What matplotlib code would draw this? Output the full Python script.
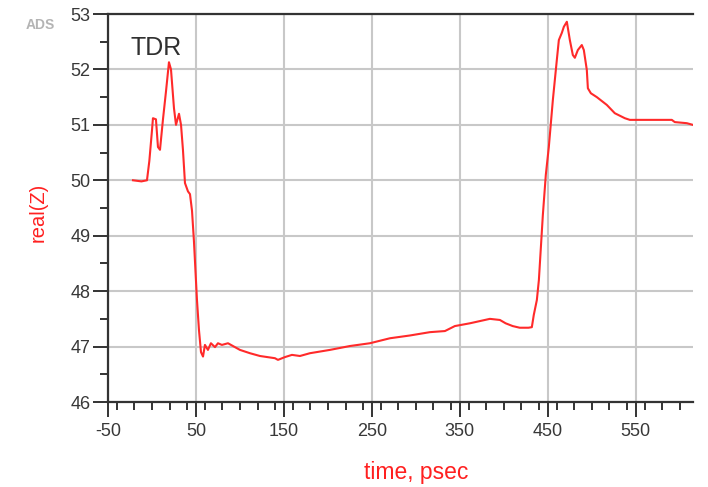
"""ADS TDR plot: real(Z) vs time."""
import matplotlib
matplotlib.use("Agg")
import matplotlib.pyplot as plt
from matplotlib.ticker import MultipleLocator

time_ps = [-21.6, -12, -5.7, -3, 0, 1.1, 4.5, 6.8, 9.1, 12.5, 15.9, 19.3, 21.6, 25,
           27.3, 30.7, 33, 35.2, 37.5, 40.9, 43.2, 45.5, 47.7, 51.1, 53.4, 55.7, 58,
           60.2, 63.6, 67, 71.6, 75, 79.5, 86.4, 94.3, 100, 111.4, 122.7, 139.8, 143.2,
           151.1, 159.1, 168.2, 179.5, 202.3, 225, 247.7, 270.5, 293.2, 315.9, 333,
           344.3, 361.4, 384.1, 395.5, 402, 410, 418, 424, 428, 431.8, 434, 437.5,
           439.8, 444.3, 447.7, 451.1, 455.7, 460.2, 462.5, 465.9, 468.2, 471.6, 475,
           478.4, 480.7, 484.1, 488.6, 490.9, 494.3, 495.5, 498.9, 505.7, 517, 526.1,
           537.5, 543.2, 590.9, 594.3, 608, 614.8]
real_z = [50.0, 49.98, 50.0, 50.35, 50.9, 51.12, 51.1, 50.6, 50.55, 51.1, 51.6, 52.13,
          52.0, 51.3, 51.0, 51.2, 51.0, 50.55, 49.95, 49.8, 49.75, 49.45, 48.9, 47.85,
          47.3, 46.9, 46.82, 47.03, 46.94, 47.06, 46.99, 47.06, 47.03, 47.06, 46.99,
          46.94, 46.88, 46.83, 46.79, 46.76, 46.81, 46.85, 46.83, 46.88, 46.94, 47.01,
          47.06, 47.15, 47.2, 47.26, 47.28, 47.37, 47.42, 47.5, 47.48, 47.42, 47.37,
          47.34, 47.34, 47.34, 47.35, 47.57, 47.84, 48.2, 49.37, 50.1, 50.6, 51.45,
          52.17, 52.53, 52.66, 52.77, 52.86, 52.53, 52.26, 52.21, 52.35, 52.44, 52.35,
          51.99, 51.66, 51.57, 51.5, 51.36, 51.21, 51.12, 51.09, 51.09, 51.05, 51.03,
          51.0]

x_ticks = [-50, 50, 150, 250, 350, 450, 550]
y_ticks = [46, 47, 48, 49, 50, 51, 52, 53]

plt.rcParams["font.family"] = ["Liberation Sans", "DejaVu Sans"]
plt.rcParams["axes.unicode_minus"] = False

fig = plt.figure(figsize=(7.08, 4.87), dpi=100)
ax = fig.add_axes([108 / 708, 1 - 402 / 487, (693 - 108) / 708, (402 - 14) / 487])

ax.plot(time_ps, real_z, color="#ff2a2a", lw=1.5, zorder=3)

ax.set_xlim(-50, 615)
ax.set_ylim(46, 53)
ax.set_xticks(x_ticks)
ax.set_yticks(y_ticks)
ax.xaxis.set_minor_locator(MultipleLocator(20))
ax.yaxis.set_minor_locator(MultipleLocator(0.5))
ax.tick_params(which="major", direction="out", length=11, width=1.4, color="#333333",
               labelsize=13, labelcolor="#383838")
ax.tick_params(axis="x", which="major", pad=4)
ax.tick_params(axis="y", which="major", pad=1.5)
ax.tick_params(which="minor", direction="out", length=6, width=1.4, color="#333333")

ax.grid(True, which="major", color="#c8c8c8", lw=1.5, zorder=0)
for side in ("left", "bottom", "top"):
    ax.spines[side].set_color("#333333")
    ax.spines[side].set_linewidth(1.6)
ax.spines["right"].set_visible(False)

ax.set_xlabel("time, psec", color="#ff2020", fontsize=16.5)
ax.xaxis.set_label_coords((416 - 108) / 585, -(472 - 402) / 388)
ax.xaxis.label.set_va("center")
ax.set_ylabel("real(Z)", color="#ff2020", fontsize=14.5)
ax.yaxis.set_label_coords(-(108 - 38) / 585, (402 - 212) / 388)
ax.yaxis.label.set_va("center")

ax.text(4.5, 52.39, "TDR", fontsize=18, color="#303030", ha="center", va="center")
fig.text(40 / 708, 1 - 25 / 487, "ADS", fontsize=10, color="#b4b4b4",
         ha="center", va="center", weight="bold")

fig.savefig("out.png", dpi=100)
plt.close(fig)
